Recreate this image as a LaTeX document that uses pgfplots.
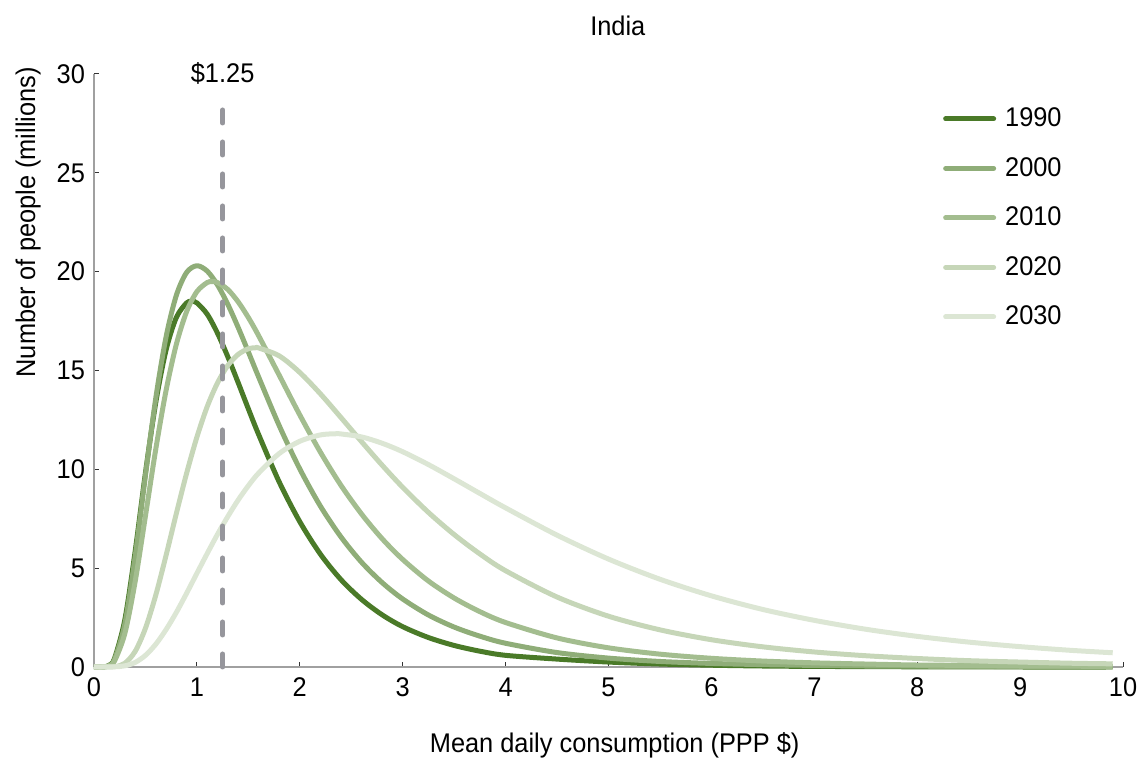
\documentclass[border=0pt]{standalone}
\usepackage{fontspec}
\setmainfont{Liberation Sans}[FakeStretch=0.94]
\usepackage{pgfplots}
\usepackage{pgfplotstable}
\pgfplotsset{compat=1.18}

\definecolor{c1990}{RGB}{74,122,40}
\definecolor{c2000}{RGB}{143,173,120}
\definecolor{c2010}{RGB}{163,189,143}
\definecolor{c2020}{RGB}{198,214,184}
\definecolor{c2030}{RGB}{220,230,212}
\definecolor{dashgray}{RGB}{150,150,156}
\definecolor{axgray}{RGB}{160,160,160}

\pgfplotstableread{
x y
0 0
0.1 0.01
0.15 0.10
0.2 0.44
0.3 2.40
0.4 5.85
0.5 9.82
0.6 13.37
0.7 16.03
0.8 17.68
0.9 18.42
0.95 18.5
1.0 18.42
1.1 17.85
1.2 16.89
1.3 15.70
1.4 14.40
1.5 13.06
1.6 11.76
1.8 9.36
2.0 7.35
2.2 5.71
2.4 4.42
2.6 3.42
2.8 2.64
3.0 2.04
3.25 1.49
3.5 1.09
3.75 0.80
4.0 0.59
4.5 0.40
5.0 0.25
5.5 0.15
6.0 0.09
6.5 0.05
7.0 0.03
8.0 0.01
9.0 0.0
9.9 0.0
}\tA

\pgfplotstableread{
x y
0 0
0.1 0.01
0.15 0.08
0.2 0.38
0.3 2.18
0.4 5.58
0.5 9.69
0.6 13.59
0.7 16.69
0.8 18.80
0.9 19.96
1.0 20.3
1.1 20.03
1.2 19.33
1.3 18.35
1.4 17.19
1.5 15.94
1.6 14.67
1.8 12.21
2.0 10.02
2.2 8.14
2.4 6.58
2.6 5.30
2.8 4.27
3.0 3.44
3.25 2.63
3.5 2.02
3.75 1.56
4.0 1.20
4.5 0.73
5.0 0.45
5.5 0.28
6.0 0.18
6.5 0.12
7.0 0.08
7.5 0.05
8.0 0.04
8.5 0.03
9.0 0.02
9.5 0.01
9.9 0.01
}\tB

\pgfplotstableread{
x y
0 0
0.1 0.01
0.15 0.07
0.2 0.31
0.3 1.70
0.4 4.32
0.5 7.64
0.6 11.01
0.7 13.98
0.8 16.32
0.9 17.98
1.0 18.99
1.1 19.45
1.15 19.5
1.2 19.45
1.3 19.10
1.4 18.48
1.5 17.68
1.6 16.76
1.8 14.76
2.0 12.75
2.2 10.87
2.4 9.19
2.6 7.74
2.8 6.49
3.0 5.44
3.25 4.35
3.5 3.49
3.75 2.80
4.0 2.25
4.5 1.47
5.0 0.97
5.5 0.65
6.0 0.44
6.5 0.30
7.0 0.21
7.5 0.15
8.0 0.10
8.5 0.08
9.0 0.05
9.5 0.04
9.9 0.03
}\tC

\pgfplotstableread{
x y
0 0
0.2 0.02
0.3 0.19
0.4 0.79
0.5 1.96
0.6 3.63
0.7 5.64
0.8 7.76
0.9 9.80
1.0 11.63
1.1 13.17
1.2 14.37
1.3 15.25
1.4 15.81
1.5 16.10
1.57 16.15
1.6 16.14
1.8 15.74
2.0 14.90
2.2 13.82
2.4 12.62
2.6 11.40
2.8 10.21
3.0 9.09
3.25 7.82
3.5 6.70
3.75 5.72
4.0 4.87
4.5 3.54
5.0 2.57
5.5 1.88
6.0 1.38
6.5 1.02
7.0 0.76
7.5 0.57
8.0 0.43
8.5 0.32
9.0 0.25
9.5 0.19
9.9 0.16
}\tD

\pgfplotstableread{
x y
0 0
0.2 0.01
0.3 0.06
0.4 0.23
0.5 0.59
0.6 1.15
0.7 1.89
0.8 2.76
0.9 3.73
1.0 4.74
1.1 5.74
1.2 6.71
1.3 7.61
1.4 8.44
1.5 9.17
1.6 9.81
1.8 10.80
2.0 11.42
2.2 11.74
2.35 11.8
2.4 11.79
2.6 11.64
2.8 11.32
3.0 10.89
3.25 10.24
3.5 9.52
3.75 8.78
4.0 8.05
4.5 6.67
5.0 5.46
5.5 4.44
6.0 3.60
6.5 2.91
7.0 2.36
7.5 1.91
8.0 1.55
8.5 1.26
9.0 1.03
9.5 0.84
9.9 0.72
}\tE

\begin{document}
\begin{tikzpicture}[font=\fontsize{13.5}{16}\selectfont]
\begin{axis}[
  scale only axis,
  width=514.5pt, height=296.5pt,
  xmin=0, xmax=10, ymin=0, ymax=30,
  axis lines=left,
  axis line style={axgray, line width=1.2pt, -},
  xtick={0,1,...,10}, ytick={0,5,...,30},
  tick align=inside,
  major tick length=2.5pt,
  tick style={black!80, line width=0.5pt},
  /pgf/number format/assume math mode=true,
  xticklabel style={yshift=-2pt},
  yticklabel style={xshift=-1pt},
  clip=false,
  title={India},
  title style={at={(axis description cs:0.509,1.061)}, anchor=center},
  xlabel={Mean daily consumption (PPP \$)},
  xlabel style={at={(axis description cs:0.506,-0.1315)}, anchor=center},
  ylabel={Number of people (millions)},
  ylabel style={at={(axis description cs:-0.0641,0.75)}, anchor=center},
  legend style={draw=none, fill=none, at={(axis description cs:0.819,0.952)}, anchor=north west,
    row sep=12.75pt, nodes={inner xsep=4.5pt, inner ysep=0pt, text height=10pt, text depth=2pt, anchor=west},
    /tikz/every even column/.append style={column sep=4pt}},
  legend cell align=left,
  legend image code/.code={\draw[#1, line cap=round] (0pt,0pt) -- (24pt,0pt);},
  every axis plot/.append style={line width=2.5pt, line join=round, smooth, tension=0.5},
]
\addplot[c1990] table[x=x,y=y] {\tA};
\addlegendentry{1990}
\addplot[c2000] table[x=x,y=y] {\tB};
\addlegendentry{2000}
\addplot[c2010] table[x=x,y=y] {\tC};
\addlegendentry{2010}
\addplot[c2020] table[x=x,y=y] {\tD};
\addlegendentry{2020}
\addplot[c2030] table[x=x,y=y] {\tE};
\addlegendentry{2030}
\addplot[dashgray, line width=2.5pt, line cap=round, dash pattern=on 6.5pt off 9.5pt, sharp plot, forget plot] coordinates {(1.25,0) (1.25,28.8)};
\node at (axis cs:1.25,30.05) {\$1.25};
\coordinate (bl) at (rel axis cs:0,0);
\coordinate (tr) at (rel axis cs:1,1);
\end{axis}
\pgfresetboundingbox
\path ([xshift=-47pt,yshift=-48.5pt]bl) rectangle ([xshift=10.5pt,yshift=37pt]tr);
\end{tikzpicture}
\end{document}
